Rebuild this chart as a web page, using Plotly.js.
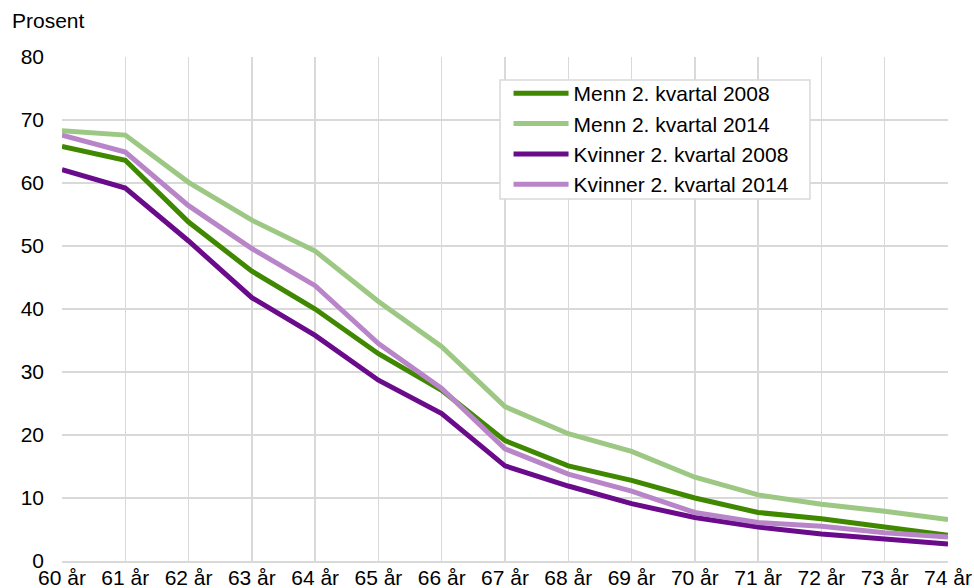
<!DOCTYPE html>
<html>
<head>
<meta charset="utf-8">
<script src="https://cdn.plot.ly/plotly-3.0.1.min.js"></script>
<style>html,body{margin:0;padding:0;background:#fff}#chart{width:974px;height:588px}</style>
</head>
<body>
<div id="chart"></div>
<script>
var ages = ["60 år","61 år","62 år","63 år","64 år","65 år","66 år","67 år","68 år","69 år","70 år","71 år","72 år","73 år","74 år"];
var menn2008 = [65.8, 63.6, 53.8, 46.0, 40.0, 32.9, 27.1, 19.1, 15.1, 12.8, 10.0, 7.7, 6.7, 5.3, 4.1];
var menn2014 = [68.3, 67.6, 60.1, 54.1, 49.2, 41.2, 34.0, 24.5, 20.2, 17.4, 13.3, 10.5, 9.0, 7.9, 6.6];
var kvinner2008 = [62.1, 59.2, 50.8, 41.8, 35.8, 28.7, 23.4, 15.1, 11.9, 9.1, 6.9, 5.4, 4.3, 3.5, 2.7];
var kvinner2014 = [67.6, 64.9, 56.4, 49.6, 43.7, 34.5, 27.4, 17.8, 13.8, 11.1, 7.7, 6.1, 5.5, 4.5, 3.8];
var seriesNames = ["Menn 2. kvartal 2008","Menn 2. kvartal 2014","Kvinner 2. kvartal 2008","Kvinner 2. kvartal 2014"];
var colors = ["#3f8800","#9cc884","#690b8a","#b886c8"];
var yTitle = "Prosent";

var allSeries = [menn2008, menn2014, kvinner2008, kvinner2014];
var traces = allSeries.map(function(vals, i){
  return {x: ages, y: vals, type: 'scatter', mode: 'lines', name: seriesNames[i],
          line: {color: colors[i], width: 5}, hoverinfo: 'skip'};
});

var font = {family: 'Liberation Sans, Arial, sans-serif', size: 21, color: '#000'};
var layout = {
  width: 974, height: 588,
  margin: {l: 62, r: 26, t: 57, b: 27},
  paper_bgcolor: '#fff', plot_bgcolor: '#fff',
  font: font,
  showlegend: true,
  legend: {x: 0.504, y: 0.968, xanchor: 'left', yanchor: 'top',
           borderwidth: 0, bgcolor: 'rgba(0,0,0,0)',
           font: font, itemwidth: 55, tracegroupgap: 0},
  xaxis: {type: 'category', range: [0, 14], showgrid: true, gridcolor: '#d9d9d9', gridwidth: 1.5,
          showline: true, linecolor: '#d9d9d9', linewidth: 1.5, zeroline: false,
          ticks: '', tickfont: font, ticklabelstandoff: -3, fixedrange: true},
  yaxis: {range: [0, 80], dtick: 10, showgrid: true, gridcolor: '#d9d9d9', gridwidth: 1.5,
          zeroline: false, showline: false, ticks: '', tickfont: font, ticklabelstandoff: 17, fixedrange: true},
  shapes: [{type: 'rect', xref: 'paper', yref: 'paper', x0: 0.4944, x1: 0.8442, y0: 0.7183, y1: 0.9544,
            line: {color: '#d9d9d9', width: 1.5}, fillcolor: '#fff', layer: 'above'}],
  annotations: [{text: yTitle, xref: 'paper', yref: 'paper', x: -0.0587, y: 1.073,
                 xanchor: 'left', yanchor: 'middle', showarrow: false, font: font}]
};
Plotly.newPlot('chart', traces, layout, {displayModeBar: false, staticPlot: true});
</script>
</body>
</html>
